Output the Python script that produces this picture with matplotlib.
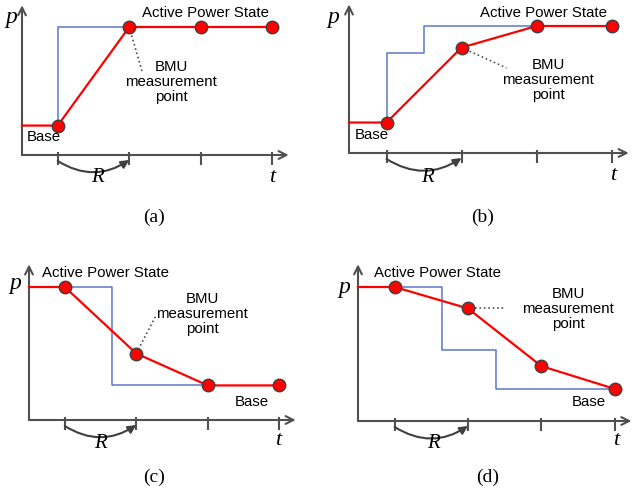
import matplotlib.pyplot as plt

W, H = 632, 498

# tick positions on the time axis (same for every panel)
t_ticks = [1, 2, 3, 4]

# (a) single step up
a_red_t = [0.5, 1, 2, 3, 4]
a_red_p = [0.23, 0.23, 1.0, 1.0, 1.0]
a_blue_t = [1, 1, 2]
a_blue_p = [0.23, 1.0, 1.0]

# (b) two steps up
b_red_t = [0.5, 1, 2, 3, 4]
b_red_p = [0.24, 0.24, 0.83, 1.0, 1.0]
b_blue_t = [1, 1, 1.5, 1.5, 3]
b_blue_p = [0.24, 0.79, 0.79, 1.0, 1.0]

# (c) single step down
c_red_t = [0.5, 1, 2, 3, 4]
c_red_p = [1.0, 1.0, 0.5, 0.26, 0.26]
c_blue_t = [0.5, 1.66, 1.66, 3]
c_blue_p = [1.0, 1.0, 0.26, 0.26]

# (d) two steps down
d_red_t = [0.5, 1, 2, 3, 4]
d_red_p = [1.0, 1.0, 0.84, 0.41, 0.24]
d_blue_t = [0.5, 1.65, 1.65, 2.38, 2.38, 4]
d_blue_p = [1.0, 1.0, 0.53, 0.53, 0.24, 0.24]

RED = '#ff0000'
BLUE = '#5b78c6'
GREY = '#505050'
SANS = 'Liberation Sans'
SERIF = 'Liberation Serif'

fig = plt.figure(figsize=(W / 100, H / 100), dpi=100)


def make_ax(x0, y0, sx, sy):
    # t=0.5 sits at pixel x0, p=0 at pixel y0 (from top)
    tmin, tmax, pmin, pmax = 0.3, 4.4, -0.35, 1.25
    left = x0 + (tmin - 0.5) * sx
    bottom = y0 - pmin * sy
    ax = fig.add_axes([left / W, 1 - bottom / H,
                       (tmax - tmin) * sx / W, (pmax - pmin) * sy / H])
    ax.set_xlim(tmin, tmax)
    ax.set_ylim(pmin, pmax)
    ax.axis('off')
    ax.patch.set_visible(False)
    return ax


def draw_panel(ax, sy, red_t, red_p, blue_t, blue_p):
    arr = dict(arrowstyle='->', lw=1.5, color=GREY, mutation_scale=14,
               shrinkA=0, shrinkB=0)
    ax.annotate('', xy=(4.23, 0), xytext=(0.5, 0), arrowprops=arr,
                annotation_clip=False)
    ax.annotate('', xy=(0.5, 1.17), xytext=(0.5, 0), arrowprops=arr,
                annotation_clip=False)
    ax.vlines(t_ticks, -10 / sy, 3 / sy, color=GREY, lw=1.5, clip_on=False)
    ax.annotate('', xy=(2, -5 / sy), xytext=(1, -6 / sy),
                arrowprops=dict(arrowstyle='-|>', lw=1.5, color='#404040',
                                mutation_scale=12, shrinkA=0, shrinkB=0,
                                connectionstyle='arc3,rad=0.32'),
                annotation_clip=False)
    ax.plot(blue_t, blue_p, color=BLUE, lw=1.1, clip_on=False, zorder=2)
    ax.plot(red_t, red_p, color=RED, lw=1.6, clip_on=False, zorder=3)
    ax.plot(red_t[1:], red_p[1:], 'o', ms=9, mfc=RED, mec='#404040',
            mew=1.0, clip_on=False, zorder=4)


def ftext(x, y, s, **kw):
    fig.text(x / W, 1 - y / H, s, ha='center', va='center', **kw)


def labels(pxy, rxy, txy, cap_xy, cap):
    ftext(*pxy, 'p', family=SERIF, style='italic', fontsize=17)
    ftext(*rxy, 'R', family=SERIF, style='italic', fontsize=15)
    ftext(*txy, 't', family=SERIF, style='italic', fontsize=16)
    ftext(*cap_xy, cap, family=SERIF, fontsize=14)


ax = make_ax(22, 155, 71.5, 128)
draw_panel(ax, 128, a_red_t, a_red_p, a_blue_t, a_blue_p)
ax.plot([2, 2.18], [1.0, 0.65], ls=':', color=GREY, lw=1.2, clip_on=False)
ax = make_ax(349, 153, 75, 127)
draw_panel(ax, 127, b_red_t, b_red_p, b_blue_t, b_blue_p)
ax.plot([2, 2.6], [0.83, 0.67], ls=':', color=GREY, lw=1.2, clip_on=False)
ax = make_ax(29, 420, 71.5, 133)
draw_panel(ax, 133, c_red_t, c_red_p, c_blue_t, c_blue_p)
ax.plot([2, 2.28], [0.5, 0.79], ls=':', color=GREY, lw=1.2, clip_on=False)
ax = make_ax(358, 421, 73.3, 134)
draw_panel(ax, 134, d_red_t, d_red_p, d_blue_t, d_blue_p)
ax.plot([2.1, 2.5], [0.84, 0.84], ls=':', color=GREY, lw=1.2, clip_on=False)

bmu = 'BMU\nmeasurement\npoint'
kw = dict(family=SANS, fontsize=10.8, linespacing=1.1)

ftext(206, 13, 'Active Power State', **kw)
ftext(171, 82, bmu, **kw)
ftext(44, 137, 'Base', **kw)
labels((11, 18), (97, 178), (272, 177), (154, 217), '(a)')

ftext(543, 13, 'Active Power State', **kw)
ftext(548, 80, bmu, **kw)
ftext(372, 135, 'Base', **kw)
labels((333, 18), (427, 177), (613, 175), (483, 217), '(b)')

ftext(105, 273, 'Active Power State', **kw)
ftext(202, 314, bmu, **kw)
ftext(252, 402, 'Base', **kw)
labels((15, 284), (100, 443), (278, 440), (154, 477), '(c)')

ftext(438, 273, 'Active Power State', **kw)
ftext(568, 309, bmu, **kw)
ftext(589, 402, 'Base', **kw)
labels((344, 287), (433, 443), (616, 440), (488, 477), '(d)')

fig.savefig('out.png', dpi=100)
